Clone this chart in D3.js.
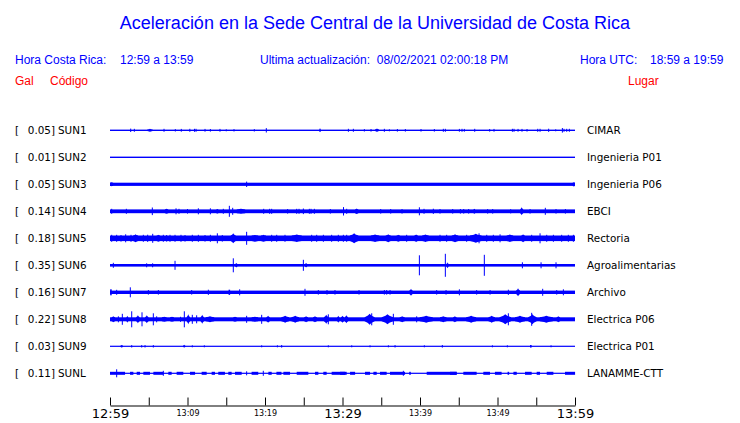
<!DOCTYPE html>
<html>
<head>
<meta charset="utf-8">
<script src="https://cdn.jsdelivr.net/npm/d3@7"></script>
<style>
  html, body { margin: 0; padding: 0; background: #fff; }
  svg { display: block; }
</style>
</head>
<body>
<svg id="chart" width="740" height="423"></svg>
<script>
// ---------------- DATA ----------------
const titleText = "Aceleración en la Sede Central de la Universidad de Costa Rica";
const stations = ["SUN1","SUN2","SUN3","SUN4","SUN5","SUN6","SUN7","SUN8","SUN9","SUNL"];
const places = ["CIMAR","Ingenieria P01","Ingenieria P06","EBCI","Rectoria","Agroalimentarias","Archivo","Electrica P06","Electrica P01","LANAMME-CTT"];
const peakGal = ["0.05","0.01","0.05","0.14","0.18","0.35","0.16","0.22","0.03","0.11"];
// background noise half-amplitude of each trace (relative units)
const baseAmp = [0.7, 0.7, 1.6, 1.9, 2.8, 1.3, 1.7, 2.0, 0.6, 0.6];
// bursts: [minute after 12:59, half-amplitude, duration in minutes (optional)]
const sun1Events = [[2.67,1.7],[3.14,1.5],[5.16,1.5,0.69],[6.97,1.5],[8.43,1.2],[9.2,1.4],[10.3,1.5,0.13],[10.9,1.5],[11.1,1.5],[12.26,1.4],[12.95,1.3],[14.19,1.4],[15.0,1.0],[16.0,1.2],[18.62,1.2],[20.17,2.2],[27.1,1.6,0.17],
  [30.76,1.5],[31.4,1.5],[32.82,1.2],[33.68,1.3],[34.45,1.7,0.52],[35.4,1.5],[36.05,1.0],[37.08,1.3],[38.11,1.3],[40.13,1.3],[41.85,1.3],[43.01,1.5],[43.27,1.5],[45.08,1.4],[45.42,1.5],[45.72,1.4],[47.06,1.5,0.13],[48.99,1.3],[49.55,1.4],[51.92,1.5],[52.13,1.5],[52.65,1.4],[53.16,1.4],[53.81,1.3],[55.19,1.5],[55.49,1.5],[56.6,1.6,0.13],[57.51,1.0],[58.37,2.3],[58.58,1.5],[58.93,1.5],[59.27,1.5]];
const sun2Events = [];
const sun3Events = [[0.2,2.0,0.4],[17.63,2.7],[59.85,2.1,0.3]];
const sun4Events = [[0.22,2.5],[2.11,2.5],[5.46,3.8],[7.3,2.5,0.43],[8.52,3],[8.9,2.5],[10.0,2.3],[11.4,3],[12.95,3],[13.85,2.3,0.26],[14.62,2.5],[15.4,5.5],[15.83,3.5],[16.9,2.5,1.1],[19.83,2.5],[20.6,2.5],[20.86,2.5],[22.92,2.3],[24.09,2.5],[24.39,2.5],[24.95,2.8],[25.72,2.5],[25.94,2.5],[26.37,2.5],[28.43,2.3],[30.13,4.2],
  [30.54,2.5],[31.83,2.8,0.43],[34.93,2.3],[36.22,2.3],[37.68,2.3],[39.92,4],[40.52,2.5],[41.72,2.6,0.13],[42.58,2.3],[44.22,2.3],[45.21,2.3],[45.64,2.3],[46.28,2.3],[47.01,2.6,0.22],[48.73,2.3],[49.38,2.3],[51.7,2.1],[53.12,4,0.4],[54.2,2.3],[56.17,3.5],[57.55,2.3],[58.76,2.3]];
const sun5Events = [[0.22,3.5],[0.86,3.5],[1.42,3.3],[2.02,4],[2.71,3.5],[3.3,4,0.65],[4.3,3.5],[4.86,3.6],[5.51,4.5],[6.24,3.5,0.45],[6.88,3.5],[7.31,3.3],[7.74,3.5],[8.39,3.5],[9.16,3.5],[9.68,3.3],[10.62,3.5],[11.4,3.5],[12.26,3.3],[12.95,3.5],[13.85,5],[14.49,3.3],[15.9,5,0.65],[17.63,6.5],[18.7,3.4,0.85],[19.8,3.5,0.65],[20.86,3.5],[21.51,3.5],[22.58,3.5],[24.1,3.7,1.3],[26.02,3.5],[26.67,3.5],[27.53,3.5],[28.6,3.5],[29.46,3.5],[30.11,3.5],
  [30.54,3.5],[31.5,5,1.1],[34.2,3.7,1.1],[35.9,4,0.65],[37.2,3.5,0.45],[38.28,3.5],[39.5,3.7,0.45],[40.7,3.7,0.85],[42.58,3.5],[43.44,3.5],[44.52,4,0.85],[46.02,3.5],[47.2,4.5,1.5],[47.62,5],[48.61,3.5],[49.46,3.5],[50.33,4],[51.6,3.7,0.85],[53.3,4,0.45],[54.41,3.5],[55.49,5],[56.35,3.5],[57.21,3.5],[58.28,3.5],[59.14,3.5],[59.79,3.5]];
const sun6Events = [[0.43,2.5],[4.73,2],[5.5,2],[8.39,4.5],[15.91,7],[16.3,2.2,0.3],[24.95,5.5],[25.3,2.2,0.3],[39.92,10],[43.27,11.5],[43.55,3,0.3],[48.3,10.5],[53.21,3],[55.62,3],[57.55,3]];
const sun7Events = [[0.12,3,0.2],[0.86,2.5],[2.62,5],[4.95,2.3],[6.24,2.3],[10.54,2.3],[12.69,2.6],[15.4,2.6,0.2],[16.73,3],[25.16,3.5],[26.88,2.3],[28.0,2.3],[29.03,2.3],
  [32.13,2.3],[35.4,2.3],[35.7,2.3],[36.13,2.3],[38.84,3.5,0.43],[42.15,2.3],[43.36,2.3],[45.08,3],[47.31,2.3],[49.04,2.3],[51.4,2.6],[52.65,4,0.5],[55.83,3.5],[57.64,2.3],[58.5,3]];
const sun8Events = [[0.43,3,0.45],[1.08,3],[1.59,5.5],[2.24,3.5,0.25],[2.8,8],[3.6,4,0.45],[4.13,7],[4.75,4,0.45],[5.59,6],[6.02,3],[7.0,2.5,0.6],[8.0,2.5,0.5],[9.1,2.5],[9.59,8],[10.1,5,0.45],[10.62,4.5],[11.18,4],[11.9,4.5,0.45],[12.9,3,1.1],[16.13,2.5,0.45],[17.63,3.5],[18.7,2.5,0.85],[19.57,4.5],[20.4,3.5,0.45],[22.6,3.5,1.0],[23.9,3.5,1.0],[25.3,3,0.5],[26.45,3,0.5],[27.9,4.5,0.6],[28.17,5],[29.46,3.5,0.3],[30.0,3.5,0.4],
  [30.5,4,0.45],[33.5,5.5,1.3],[33.77,6],[35.8,5,1.5],[36.56,5.5],[37.7,3,0.65],[39.57,3],[40.8,3.5,1.7],[43.0,3,0.85],[44.5,3,0.45],[46.6,3.5,1.3],[49.25,3.5,0.85],[51.0,5,1.5],[51.4,6],[52.9,3.5,1.3],[54.5,5,1.1],[54.41,6.5],[56.3,3.5,1.7],[57.85,3,0.45]];
const sun9Events = [[1.51,1.4,0.34],[2.8,1.2],[4.09,1.2],[4.52,1.2],[5.59,1.2],[9.57,1.5,0.3],[10.62,1.0],[12.17,1.0],[19.57,1.0],[21.6,1.0],[22.15,1.3],[28.17,1.0],
  [31.19,1.0],[33.55,1.0],[35.92,1.0],[36.78,1.2],[40.56,1.0],[42.88,1.3],[49.34,1.0],[51.27,1.0],[54.3,1.3,0.2],[56.91,1.0]];
const sunLEvents = [[0.97,1.5,1.94],[0.86,4],[2.8,1.5,0.43],[3.66,1.5,0.43],[4.73,1.5,0.86],[6.24,1.5,1.29],[6.88,2.5],[7.74,1.5,0.43],[9.03,1.5,0.86],[10.65,1.5,0.65],[12.15,1.5,0.65],[13.33,1.5,0.43],[14.4,1.5,0.86],[15.48,1.5,0.43],[16.56,1.5,0.86],[17.63,2],[18.7,1.5,0.86],[19.78,2.5],[20.65,1.5,0.43],[21.8,1.5,0.65],[22.8,1.5,0.86],[24.84,1.5,1.5],[26.67,1.5,0.43],[27.74,1.5,0.43],[29.46,1.5,1.72],
  [30.11,1.5,0.86],[31.3,1.5,0.65],[33.23,1.5,0.65],[34.2,1.5,0.43],[35.27,1.5,0.86],[37.1,1.5,1.94],[37.85,2.5],[38.71,1.5,0.2],[42.8,1.5,3.87],[44.3,1.5,0.86],[46.45,1.5,1.72],[48.6,1.5,0.86],[50.1,1.5,0.86],[51.4,1.5,0.2],[52.27,1.5,0.43],[53.98,1.5,0.86],[55.27,1.5,0.43],[56.78,1.5,0.86],[59.36,1.5,1.3]];
const traceEvents = [sun1Events, sun2Events, sun3Events, sun4Events, sun5Events, sun6Events, sun7Events, sun8Events, sun9Events, sunLEvents];
// segment-type traces (flat noise segments rather than bursts)
const flatTraces = ["SUNL"];
const tickLabels = ["12:59","","13:09","","13:19","","13:29","","13:39","","13:49","","13:59"];
const bigTicks = ["12:59","13:29","13:59"];

// ---------------- DRAW ----------------
const svg = d3.select("#chart");
const BLUE = "#0000ff", RED = "#ff0000";
const t0 = new Date(2021, 7, 2, 12, 59, 0);
const t1 = new Date(2021, 7, 2, 13, 59, 0);
const toDate = m => new Date(t0.getTime() + m * 60000);

const x = d3.scaleTime().domain([t0, t1]).range([110, 575]);
const row = d3.scalePoint().domain(stations).range([130.3, 373.3]);
const amp = d3.scaleLinear().domain([0, 13.5]).range([0, 13.5]);

// Title and headers
svg.append("text").attr("x", 375).attr("y", 29).attr("text-anchor", "middle")
  .attr("font-family", "Liberation Sans, Arial, sans-serif").attr("font-size", 18)
  .attr("fill", BLUE).text(titleText);

const hdr = [
  {x: 15, t: "Hora Costa Rica:"}, {x: 120, t: "12:59 a 13:59"},
  {x: 260, t: "Ultima actualización:  08/02/2021 02:00:18 PM"},
  {x: 580, t: "Hora UTC:"}, {x: 650, t: "18:59 a 19:59"}
];
svg.selectAll("text.hdr").data(hdr).join("text").attr("class", "hdr")
  .attr("x", d => d.x).attr("y", 64)
  .attr("font-family", "Liberation Sans, Arial, sans-serif").attr("font-size", 12)
  .attr("fill", BLUE).attr("xml:space", "preserve").style("white-space", "pre").text(d => d.t);

const red = [{x: 15, t: "Gal"}, {x: 50, t: "Código"}, {x: 628, t: "Lugar"}];
svg.selectAll("text.red").data(red).join("text").attr("class", "red")
  .attr("x", d => d.x).attr("y", 85)
  .attr("font-family", "Liberation Sans, Arial, sans-serif").attr("font-size", 12)
  .attr("fill", RED).text(d => d.t);

// Rows
const rows = svg.selectAll("g.row").data(stations).join("g").attr("class", "row")
  .attr("transform", d => `translate(0,${row(d)})`);

const lblFont = "DejaVu Sans, sans-serif";
rows.append("text").attr("x", 15).attr("y", 4).attr("font-family", lblFont).attr("font-size", 10.4)
  .attr("fill", "#000").text("[");
rows.append("text").attr("x", 55).attr("y", 4).attr("text-anchor", "end").attr("font-family", lblFont).attr("font-size", 10.4)
  .attr("fill", "#000").text((d, i) => peakGal[i] + "]");
rows.append("text").attr("x", 58).attr("y", 4).attr("font-family", lblFont).attr("font-size", 10.4)
  .attr("fill", "#000").text(d => d);
rows.append("text").attr("x", 587).attr("y", 4).attr("font-family", lblFont).attr("font-size", 10.4)
  .attr("fill", "#000").text((d, i) => places[i]);

// background band
rows.append("rect")
  .attr("x", x(t0)).attr("width", x(t1) - x(t0))
  .attr("y", (d, i) => -amp(baseAmp[i])).attr("height", (d, i) => 2 * amp(baseAmp[i]))
  .attr("fill", BLUE);

// bursts: short ones as 1px spikes, longer ones as spindle envelopes
rows.each(function (st, i) {
  const g = d3.select(this);
  const b = baseAmp[i];
  const flat = flatTraces.includes(st);
  const evs = traceEvents[i];
  const isShort = e => !e[2] || e[2] <= 0.2 || flat;
  g.selectAll("rect.ev").data(evs.filter(isShort)).join("rect").attr("class", "ev")
    .attr("x", e => x(toDate(e[0] - (e[2] || 0.13) / 2)))
    .attr("width", e => Math.max(1, x(toDate(e[0] + (e[2] || 0.13) / 2)) - x(toDate(e[0] - (e[2] || 0.13) / 2))))
    .attr("y", e => -amp(e[1])).attr("height", e => 2 * amp(e[1]))
    .attr("fill", BLUE);
  g.selectAll("path.ev").data(evs.filter(e => !isShort(e))).join("path").attr("class", "ev")
    .attr("d", e => {
      const xa = x(toDate(e[0] - e[2] / 2)), xc = x(toDate(e[0])), xb = x(toDate(e[0] + e[2] / 2));
      const xl = x(toDate(e[0] - e[2] / 6)), xr = x(toDate(e[0] + e[2] / 6));
      const A = amp(e[1]), B = amp(b), M = amp((e[1] + b) / 2);
      return `M${xa},${-B}L${xl},${-M}L${xc},${-A}L${xr},${-M}L${xb},${-B}` +
             `L${xb},${B}L${xr},${M}L${xc},${A}L${xl},${M}L${xa},${B}Z`;
    })
    .attr("fill", BLUE);
});

// time axis
const tickDates = d3.range(13).map(k => toDate(k * 5));
const axis = d3.axisBottom(x).tickValues(tickDates)
  .tickSizeInner(-8).tickSizeOuter(0).tickPadding(3)
  .tickFormat((d, i) => tickLabels[i]);
const gAxis = svg.append("g").attr("transform", "translate(0,405.5)").call(axis);
gAxis.select(".domain").attr("stroke", "#000");
gAxis.selectAll(".tick line").attr("stroke", "#000");
const isBig = d => bigTicks.includes(tickLabels[tickDates.findIndex(t => +t === +d)]);
gAxis.selectAll(".tick text")
  .attr("font-family", lblFont)
  .attr("fill", "#000")
  .attr("font-size", d => isBig(d) ? 13 : 8)
  .attr("dy", d => isBig(d) ? "0.71em" : "0.9em");
</script>
</body>
</html>
